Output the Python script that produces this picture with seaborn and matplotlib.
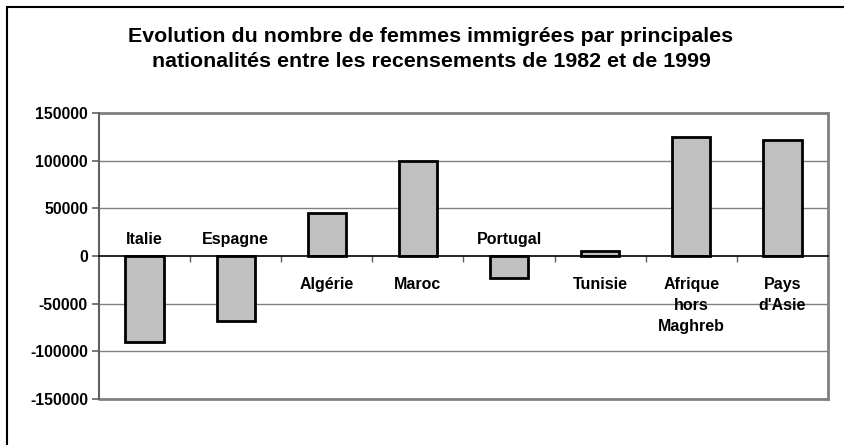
import matplotlib
matplotlib.use("Agg")
import matplotlib.pyplot as plt
import matplotlib.patches as mpatches
import seaborn as sns
import pandas as pd

categories = ["Italie", "Espagne", "Algérie", "Maroc", "Portugal", "Tunisie",
              "Afrique\nhors\nMaghreb", "Pays\nd'Asie"]
values = [-90000, -68000, 45000, 100000, -23000, 5000, 125000, 122000]
yticks = [-150000, -100000, -50000, 0, 50000, 100000, 150000]
title = ("Evolution du nombre de femmes immigrées par principales\n"
         "nationalités entre les recensements de 1982 et de 1999")

sns.set_theme(style="white")
plt.rcParams['font.family'] = ['Liberation Sans', 'DejaVu Sans']
plt.rcParams['text.color'] = 'black'

df = pd.DataFrame({"cat": categories, "val": values})

fig = plt.figure(figsize=(8.44, 4.45), dpi=100)
ax = fig.add_axes([99/844, 1-399/445, (828-99)/844, (399-113)/445])

sns.barplot(data=df, x="cat", y="val", color="#C0C0C0", width=0.42,
            edgecolor="black", linewidth=2.0, saturation=1, ax=ax, zorder=3)

ax.set_ylim(-150000, 150000)
ax.set_xlim(-0.5, len(categories) - 0.5)
ax.set_yticks(yticks)
ax.set_yticklabels([str(t) for t in yticks], fontsize=11.3, fontweight="bold",
                   color="black")
ax.set_xlabel("")
ax.set_ylabel("")

# gridlines
for t in yticks:
    if t in (-150000, 150000, 0):
        continue
    ax.axhline(t, color="#808080", lw=1.0, zorder=1)
ax.axhline(150000, color="#808080", lw=2.0, zorder=1, clip_on=False)
ax.axhline(-150000, color="#808080", lw=2.0, zorder=1, clip_on=False)

# spines
ax.spines['top'].set_visible(False)
ax.spines['right'].set_color("#808080")
ax.spines['right'].set_linewidth(2.0)
ax.spines['left'].set_color("#606060")
ax.spines['left'].set_linewidth(1.5)
ax.spines['bottom'].set_position(('data', 0))
ax.spines['bottom'].set_color("black")
ax.spines['bottom'].set_linewidth(1.2)
ax.spines['bottom'].set_zorder(4)

ax.tick_params(axis='y', which='major', left=True, direction='out', length=5,
               width=1.2, color="#606060", pad=3, labelcolor="black")
ax.set_xticks([i + 0.5 for i in range(len(categories) - 1)])
ax.set_xticklabels([])
ax.tick_params(axis='x', which='major', bottom=True, direction='out', length=4,
               width=1.0, color="#606060")

# category data labels
for i, (c, v) in enumerate(zip(categories, values)):
    if v < 0:
        ax.text(i, 13000, c, ha="center", va="baseline", fontsize=11.5,
                fontweight="bold", linespacing=1.5, zorder=5, color="black")
    else:
        ax.text(i, -22000, c, ha="center", va="top", fontsize=11.5,
                fontweight="bold", linespacing=1.5, zorder=5, color="black")

fig.text(431/844, 1-49/445, title, ha="center", va="center", fontsize=15.4,
         fontweight="bold", linespacing=1.45, color="black")

frame = mpatches.Rectangle((7/844, -0.2), 1.3, 0.2 + (1 - 7/445), fill=False,
                           edgecolor="black", lw=1.5, transform=fig.transFigure,
                           clip_on=False)
fig.patches.append(frame)

fig.savefig("out.png", dpi=100)
